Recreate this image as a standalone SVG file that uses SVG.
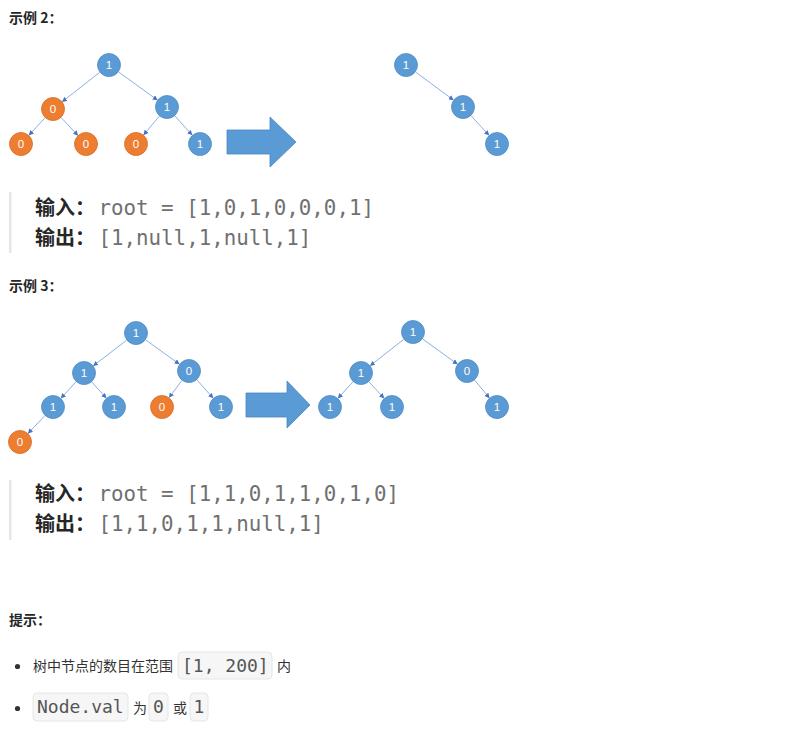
<svg xmlns="http://www.w3.org/2000/svg" width="791" height="737" viewBox="0 0 791 737">
<style>
.nb{fill:#5B9BD5;stroke:#4F8CC4;stroke-width:0.8}
.no{fill:#ED7D31;stroke:#D86C24;stroke-width:0.8}
.nt{font-family:"Liberation Sans",sans-serif;font-size:11.5px;fill:#fff;text-anchor:middle}
.e{stroke:#6F9BD8;stroke-width:0.8;fill:none;marker-end:url(#ah)}
.big{fill:#5B9BD5;stroke:#4A86BF;stroke-width:0.8}
.h{font-family:"Noto Sans CJK SC","Noto Sans",sans-serif;font-size:14px;font-weight:bold;fill:#262626}
.lab{font-family:"Noto Sans CJK SC","Noto Sans",sans-serif;font-size:20px;font-weight:bold;fill:#262626}
.mono{font-family:"DejaVu Sans Mono",monospace;font-size:20.8px;fill:#707070}
.bar{fill:#e6e6e6}
.tx{font-family:"Noto Sans CJK SC","Noto Sans",sans-serif;font-size:14px;fill:#333}
.cb{fill:#f6f6f6;stroke:#e6e6e6;stroke-width:1}
.code{font-family:"DejaVu Sans Mono",monospace;font-size:18px;fill:#555}
</style>
<defs>
<marker id="ah" viewBox="0 0 10 10" refX="9" refY="5" markerWidth="5" markerHeight="5" markerUnits="userSpaceOnUse" orient="auto">
<path d="M0,0 L10,5 L0,10 z" fill="#4472C4"/>
</marker>
</defs>

<text class="h" x="9" y="23">示例 2：</text>

<g id="connectors">
<line class="e" x1="99.6" y1="72.4" x2="62.4" y2="101.6"/>
<line class="e" x1="118.7" y1="72" x2="157.3" y2="100"/>
<line class="e" x1="44.9" y1="117.9" x2="29.1" y2="135.1"/>
<line class="e" x1="61.2" y1="117.7" x2="77.8" y2="135.3"/>
<line class="e" x1="159.3" y1="116.2" x2="143.7" y2="134.8"/>
<line class="e" x1="175" y1="116" x2="192" y2="135"/>
<line class="e" x1="415.7" y1="72.1" x2="453.3" y2="99.9"/>
<line class="e" x1="471.1" y1="115.8" x2="488.9" y2="135.2"/>
<line class="e" x1="126.5" y1="340.3" x2="93.5" y2="365.7"/>
<line class="e" x1="145.8" y1="340" x2="179.2" y2="364"/>
<line class="e" x1="75.9" y1="381.9" x2="61.1" y2="398.1"/>
<line class="e" x1="91.9" y1="382" x2="106.1" y2="398"/>
<line class="e" x1="181.8" y1="380.6" x2="169.2" y2="397.4"/>
<line class="e" x1="197" y1="380" x2="213" y2="398"/>
<line class="e" x1="44.8" y1="415.7" x2="28.2" y2="433.3"/>
<line class="e" x1="403.6" y1="339.4" x2="370.4" y2="365.6"/>
<line class="e" x1="422.7" y1="339" x2="457.3" y2="364"/>
<line class="e" x1="352.9" y1="381.9" x2="338.1" y2="398.1"/>
<line class="e" x1="369.1" y1="381.9" x2="383.9" y2="398.1"/>
<line class="e" x1="474.7" y1="380.2" x2="489.3" y2="397.8"/>
</g>

<!-- Example 2 input tree -->
<g id="a_root"><circle class="nb" cx="109" cy="65" r="11.5"/><text class="nt" x="109" y="69">1</text></g>
<g id="a_l"><circle class="no" cx="53" cy="109" r="11.5"/><text class="nt" x="53" y="113">0</text></g>
<g id="a_r"><circle class="nb" cx="167" cy="107" r="11.5"/><text class="nt" x="167" y="111">1</text></g>
<g id="a_ll"><circle class="no" cx="21" cy="144" r="11.5"/><text class="nt" x="21" y="148">0</text></g>
<g id="a_lr"><circle class="no" cx="86" cy="144" r="11.5"/><text class="nt" x="86" y="148">0</text></g>
<g id="a_rl"><circle class="no" cx="136" cy="144" r="11.5"/><text class="nt" x="136" y="148">0</text></g>
<g id="a_rr"><circle class="nb" cx="200" cy="144" r="11.5"/><text class="nt" x="200" y="148">1</text></g>

<g id="arrow1"><polygon class="big" points="227,130 270,130 270,117 296,142 270,167 270,154 227,154"/></g>

<!-- Example 2 output tree -->
<g id="b_root"><circle class="nb" cx="406" cy="65" r="11.5"/><text class="nt" x="406" y="69">1</text></g>
<g id="b_r"><circle class="nb" cx="463" cy="107" r="11.5"/><text class="nt" x="463" y="111">1</text></g>
<g id="b_rr"><circle class="nb" cx="497" cy="144" r="11.5"/><text class="nt" x="497" y="148">1</text></g>

<rect class="bar" x="9" y="192" width="2.5" height="61"/>
<text class="lab" x="35" y="215">输入：</text>
<text class="mono" x="98.5" y="215">root = [1,0,1,0,0,0,1]</text>
<text class="lab" x="35" y="245">输出：</text>
<text class="mono" x="98.5" y="245">[1,null,1,null,1]</text>

<text class="h" x="9" y="291">示例 3：</text>

<!-- Example 3 input tree -->
<g id="c_root"><circle class="nb" cx="136" cy="333" r="11.5"/><text class="nt" x="136" y="337">1</text></g>
<g id="c_l"><circle class="nb" cx="84" cy="373" r="11.5"/><text class="nt" x="84" y="377">1</text></g>
<g id="c_r"><circle class="nb" cx="189" cy="371" r="11.5"/><text class="nt" x="189" y="375">0</text></g>
<g id="c_ll"><circle class="nb" cx="53" cy="407" r="11.5"/><text class="nt" x="53" y="411">1</text></g>
<g id="c_lr"><circle class="nb" cx="114" cy="407" r="11.5"/><text class="nt" x="114" y="411">1</text></g>
<g id="c_rl"><circle class="no" cx="162" cy="407" r="11.5"/><text class="nt" x="162" y="411">0</text></g>
<g id="c_rr"><circle class="nb" cx="221" cy="407" r="11.5"/><text class="nt" x="221" y="411">1</text></g>
<g id="c_lll"><circle class="no" cx="20" cy="442" r="11.5"/><text class="nt" x="20" y="446">0</text></g>

<g id="arrow2"><polygon class="big" points="246,393 287,393 287,381 310,405 287,428 287,417 246,417"/></g>

<!-- Example 3 output tree -->
<g id="d_root"><circle class="nb" cx="413" cy="332" r="11.5"/><text class="nt" x="413" y="336">1</text></g>
<g id="d_l"><circle class="nb" cx="361" cy="373" r="11.5"/><text class="nt" x="361" y="377">1</text></g>
<g id="d_r"><circle class="nb" cx="467" cy="371" r="11.5"/><text class="nt" x="467" y="375">0</text></g>
<g id="d_ll"><circle class="nb" cx="330" cy="407" r="11.5"/><text class="nt" x="330" y="411">1</text></g>
<g id="d_lr"><circle class="nb" cx="392" cy="407" r="11.5"/><text class="nt" x="392" y="411">1</text></g>
<g id="d_rr"><circle class="nb" cx="497" cy="407" r="11.5"/><text class="nt" x="497" y="411">1</text></g>

<rect class="bar" x="9" y="480" width="2.5" height="60"/>
<text class="lab" x="35" y="501">输入：</text>
<text class="mono" x="98.5" y="501">root = [1,1,0,1,1,0,1,0]</text>
<text class="lab" x="35" y="531">输出：</text>
<text class="mono" x="98.5" y="531">[1,1,0,1,1,null,1]</text>

<text class="h" x="9" y="625">提示：</text>

<circle cx="17.5" cy="666.5" r="2.6" fill="#333"/>
<text class="tx" x="33" y="671">树中节点的数目在范围</text>
<rect class="cb" x="178" y="652" width="94" height="27" rx="4"/>
<text class="code" x="182" y="672">[1, 200]</text>
<text class="tx" x="277" y="671">内</text>

<circle cx="17.5" cy="708.5" r="2.6" fill="#333"/>
<rect class="cb" x="33" y="693" width="95" height="28" rx="4"/>
<text class="code" x="37" y="713">Node.val</text>
<text class="tx" x="133" y="713">为</text>
<rect class="cb" x="149" y="693" width="19" height="28" rx="4"/>
<text class="code" x="153" y="713">0</text>
<text class="tx" x="173" y="713">或</text>
<rect class="cb" x="190" y="693" width="18" height="28" rx="4"/>
<text class="code" x="193.5" y="713">1</text>
</svg>
